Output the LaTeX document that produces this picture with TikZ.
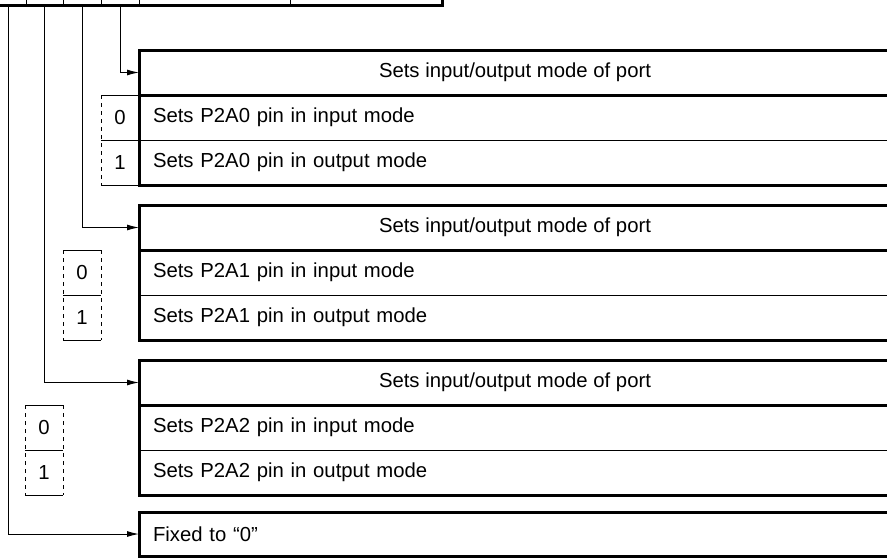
\documentclass[tikz,border=0pt]{standalone}
\usepackage{fontspec}
\setmainfont{Liberation Sans}
\usetikzlibrary{arrows.meta, positioning}

\begin{document}
\begin{tikzpicture}[x=0.5pt, y=-0.5pt,
  boxline/.style={line width=1.5pt},
  thinline/.style={line width=0.5pt},
  dashline/.style={line width=0.5pt, dash pattern=on 2pt off 2pt},
  hdr/.style={draw, line width=1.5pt, anchor=north west, outer sep=0pt,
              minimum width=376pt, minimum height=22.5pt, inner sep=0pt,
              font=\fontsize{10.15}{12}\selectfont},
  rowbox/.style={anchor=north west, outer sep=0pt, minimum width=376pt,
                 minimum height=22.5pt, inner xsep=7pt, inner ysep=0pt,
                 text width=362pt, align=left,
                 font=\fontsize{10.15}{12}\selectfont},
  bit/.style={anchor=north west, outer sep=0pt, minimum width=19pt,
              minimum height=22.5pt, inner sep=0pt,
              font=\fontsize{10.15}{12}\selectfont},
  regcell/.style={draw, line width=0.5pt, anchor=south west, outer sep=0pt,
                  minimum height=40pt, inner sep=0pt},
  conn/.style={line width=0.5pt, -{Latex[length=6pt, width=3pt]}},
]
\useasboundingbox (0,0) rectangle (887,557);
\clip (0,0) rectangle (887,557);

%% Register (cut off at the top)
\foreach \n/\l/\w in {3/-10/36, 2/26/37, 1/63/38, 0/101/38, 4/139/151, 5/290/152}{
  \node[regcell, minimum width=\w*0.5pt] (reg\n) at (\l,5) {};
}
\draw[boxline] (reg3.north west) rectangle (reg5.south east);

%% One block per port pin
\foreach \i/\ty/\bx in {0/50/101, 1/205/63, 2/360/25}{
  \node[hdr] (hdr\i) at (139,\ty) {Sets input/output mode of port};
  \node[rowbox, below=0pt of hdr\i] (rowa\i) {Sets P2A\i\ pin in input mode};
  \node[rowbox, below=0pt of rowa\i] (rowb\i) {Sets P2A\i\ pin in output mode};
  \draw[boxline] (hdr\i.north west) rectangle (rowb\i.south east);
  \draw[thinline] (rowa\i.south west) -- (rowa\i.south east);
  % bit values
  \node[bit] (bita\i) at (\bx,\ty+45) {0};
  \node[bit, below=0pt of bita\i] (bitb\i) {1};
  \draw[thinline] (bita\i.north west) -- (bita\i.north east);
  \draw[thinline] (bita\i.south west) -- (bita\i.south east);
  \draw[thinline] (bitb\i.south west) -- (bitb\i.south east);
  \draw[dashline] (bita\i.north west) -- (bitb\i.south west);
  \draw[dashline] (bita\i.north east) -- (bitb\i.south east);
  \draw[conn] (reg\i.south) |- (hdr\i.west);
}

%% Fixed bit
\node[rowbox, draw, boxline, minimum height=22pt] (fixd) at (139,512) {Fixed to “0”};
\draw[conn] (reg3.south) |- (fixd.west);
\end{tikzpicture}
\end{document}
